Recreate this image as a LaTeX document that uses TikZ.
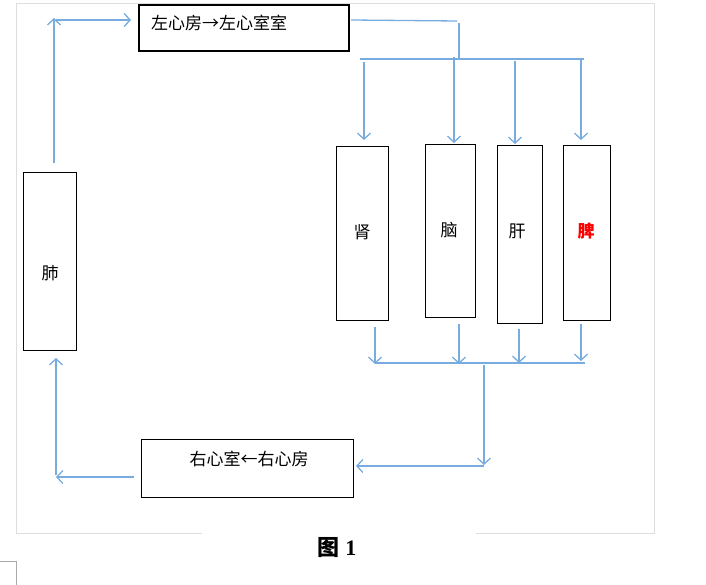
\documentclass[tikz,border=0pt]{standalone}
\usepackage{fontspec}
\setmainfont{Liberation Serif}
\newfontfamily\cjk{Noto Sans CJK SC}
\usetikzlibrary{arrows.meta}
\definecolor{flow}{RGB}{120,172,222}
\definecolor{pageframe}{RGB}{222,222,222}
\definecolor{cornermark}{RGB}{170,170,170}
\begin{document}
\begin{tikzpicture}[x=1pt,y=-1pt,
  box/.style={draw=black, line width=1pt, inner sep=0pt, anchor=north west},
  flowline/.style={draw=flow, line width=1.3pt},
  flowarrow/.style={flowline, -{Straight Barb[length=6pt,width=13pt]}},
  lbl/.style={font=\cjk\fontsize{17}{19}\selectfont, inner sep=0pt}]
\useasboundingbox (0,0) rectangle (706,585);
% page frame
\draw[pageframe, line width=1pt] (202,533) -- (16,533) -- (16,4) -- (654,4) -- (654,533) -- (476,533);
\draw[cornermark, line width=0.8pt] (0,561) -- (16,561) -- (16,585);
% boxes
\node[box, line width=2.4pt, minimum width=210pt, minimum height=46pt] (lv) at (138,4) {};
\node[box, minimum width=53pt, minimum height=178pt] (lung) at (23,172) {};
\node[box, minimum width=52pt, minimum height=174pt] (kidney) at (336,146) {};
\node[box, minimum width=50pt, minimum height=173pt] (brain) at (425,144) {};
\node[box, minimum width=45pt, minimum height=178pt] (liver) at (497,145) {};
\node[box, minimum width=47pt, minimum height=175pt] (spleen) at (563,145) {};
\node[box, minimum width=212pt, minimum height=58pt] (rv) at (141,439) {};
% labels
\node[lbl, anchor=west] (lvtext) at (151,23) {左心房→左心室室};
\node[lbl] (rvtext) at (249,459) {右心室←右心房};
\node[lbl] (lungtext) at (50,273) {肺};
\node[lbl] (kidneytext) at (362,232) {肾};
\node[lbl] (braintext) at (449,230) {脑};
\node[lbl] (livertext) at (517,231) {肝};
\node[lbl, text=red, font=\cjk\bfseries\fontsize{17}{19}\selectfont] (spleentext) at (586,231) {脾};
\node[inner sep=0pt, font=\bfseries\fontsize{22}{24}\selectfont] (caption) at (337,548) {{\cjk\bfseries 图} 1};
% coordinates
\coordinate (a1) at (54,163);
\coordinate (a2) at (54,18);
\coordinate (a3) at (56,20);
\coordinate (b1) at (351,20);
\coordinate (b2) at (457,21);
\coordinate (b3) at (459,23);
\coordinate (b4) at (459,59);
\coordinate (h1) at (360,59);
\coordinate (h2) at (584,59);
\coordinate (d1) at (364,62);
\coordinate (d2) at (454,57);
\coordinate (d3) at (515,61);
\coordinate (d4) at (581,58);
\coordinate (u1) at (375,364);
\coordinate (u2) at (459,364);
\coordinate (u3) at (519,363);
\coordinate (u4) at (581,361);
\coordinate (g1) at (375,363);
\coordinate (g2) at (585,363);
\coordinate (c1) at (484,365);
\coordinate (c2) at (484,465);
\coordinate (c3) at (484,466);
\coordinate (e1) at (134,477);
\coordinate (e2) at (56,477);
\coordinate (e3) at (56,475);
\coordinate (e4) at (56,357);
% lung -> left heart
\draw[flowarrow] (a1) -- (a2);
\draw[flowarrow, shorten >=7pt] (a3) -- (lv.west |- a3);
% left heart -> organs
\draw[flowline] (b1) -- (b2);
\draw[flowline] (b3) -- (b4);
\draw[flowline] (h1) -- (h2);
\draw[flowarrow, shorten >=6pt] (d1) -- (d1 |- kidney.north);
\draw[flowarrow, shorten >=1pt] (d2) -- (d2 |- brain.north);
\draw[flowarrow, shorten >=1pt] (d3) -- (d3 |- liver.north);
\draw[flowarrow, shorten >=5pt] (d4) -- (d4 |- spleen.north);
% organs -> collector
\draw[flowarrow, shorten <=6pt] (u1 |- kidney.south) -- (u1);
\draw[flowarrow, shorten <=6pt] (u2 |- brain.south) -- (u2);
\draw[flowarrow, shorten <=5pt] (u3 |- liver.south) -- (u3);
\draw[flowarrow, shorten <=3pt] (u4 |- spleen.south) -- (u4);
\draw[flowline] (g1) -- (g2);
% collector -> right heart
\draw[flowarrow] (c1) -- (c2);
\draw[flowarrow, shorten >=2pt] (c3) -- (rv.east |- c3);
% right heart -> lung
\draw[flowarrow] (e1) -- (e2);
\draw[flowarrow, shorten >=7pt] (e3) -- (e3 |- lung.south);
\end{tikzpicture}
\end{document}
